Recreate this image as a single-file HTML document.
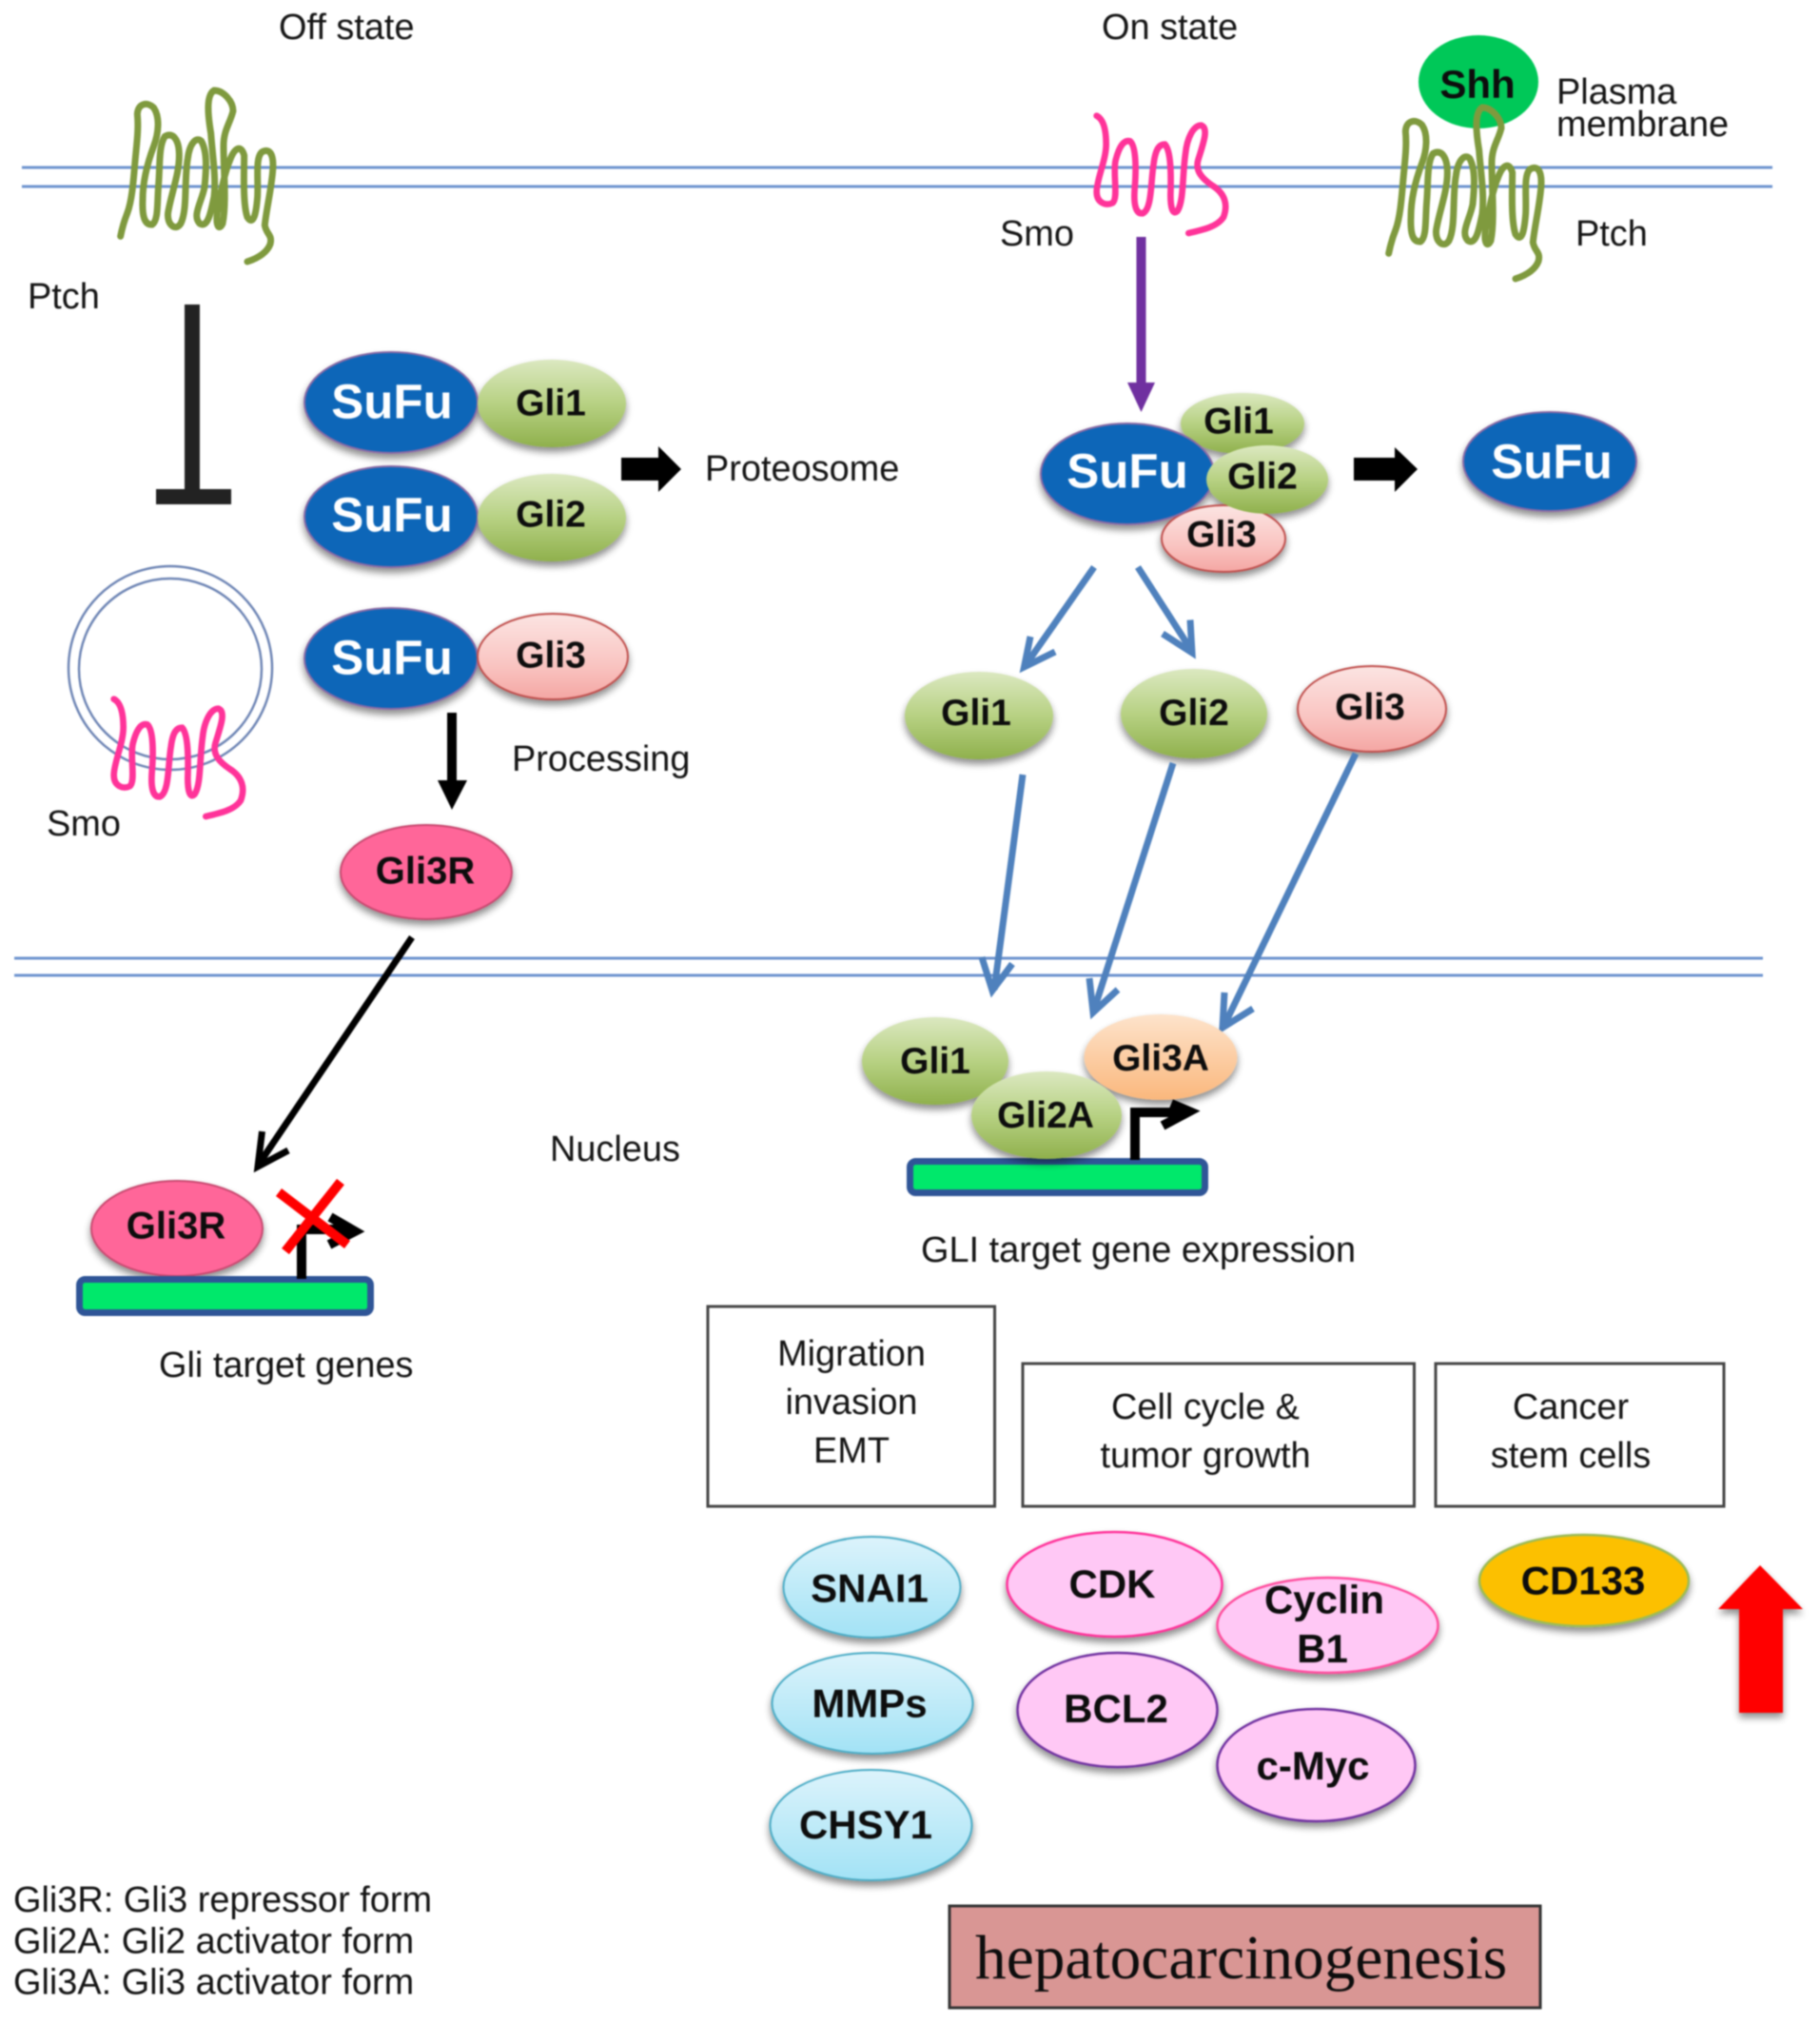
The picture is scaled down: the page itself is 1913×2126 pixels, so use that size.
<!DOCTYPE html>
<html>
<head>
<meta charset="utf-8">
<style>
html,body{margin:0;padding:0;background:#fff}
svg{display:block;filter:blur(.8px)}
text{font-family:"Liberation Sans",sans-serif;fill:#141414}
.n{font-size:37.9px}
.b{font-weight:bold;font-size:39px;text-anchor:middle;fill:#0d0d0d;transform:translate(0,-1.5px)}
.w{font-weight:bold;font-size:51px;text-anchor:middle;fill:#fff;transform:translate(0,-1.5px)}
.l{font-weight:bold;font-size:42px;text-anchor:middle;fill:#0d0d0d;transform:translate(0,-1.5px)}
.c{text-anchor:middle}
.mem{stroke:#6d93cf;stroke-width:3;fill:none}
.blue{stroke:#4f81bd;stroke-width:7;fill:none;stroke-linejoin:miter}
.sh{filter:url(#ds)}
</style>
</head>
<body>
<svg width="1913" height="2126" viewBox="0 0 1913 2126" xmlns="http://www.w3.org/2000/svg">
<defs>
<filter id="ds" x="-20%" y="-20%" width="140%" height="150%">
<feGaussianBlur in="SourceAlpha" stdDeviation="4"/>
<feOffset dy="5"/>
<feComponentTransfer><feFuncA type="linear" slope=".45"/></feComponentTransfer>
<feMerge><feMergeNode/><feMergeNode in="SourceGraphic"/></feMerge>
</filter>
<linearGradient id="gG" x1="0" y1="0" x2="0" y2="1"><stop offset="0" stop-color="#dbe8c0"/><stop offset=".5" stop-color="#b7d183"/><stop offset="1" stop-color="#8fb04c"/></linearGradient>
<linearGradient id="gP" x1="0" y1="0" x2="0" y2="1"><stop offset="0" stop-color="#fbe4e2"/><stop offset=".6" stop-color="#f9c4c1"/><stop offset="1" stop-color="#f4a6a3"/></linearGradient>
<linearGradient id="gO" x1="0" y1="0" x2="0" y2="1"><stop offset="0" stop-color="#fde3cb"/><stop offset="1" stop-color="#fab77c"/></linearGradient>
<linearGradient id="gB" x1="0" y1="0" x2="0" y2="1"><stop offset="0" stop-color="#dcf3fb"/><stop offset="1" stop-color="#a2e2f5"/></linearGradient>
<path id="ptch" d="M50 505 C55 480 60 460 72 430 C85 395 90 340 95 280 C100 220 108 170 103 120 C105 85 135 80 155 100 C175 130 170 180 155 220 C140 260 120 320 120 390 C118 440 125 470 150 468 C170 455 165 400 170 340 C175 280 170 220 190 190 C215 175 235 200 235 250 C235 310 210 370 200 430 C195 470 225 490 240 465 C262 420 250 330 262 260 C268 210 290 190 305 205 C325 240 320 300 315 350 C305 400 275 440 300 465 C325 480 335 430 345 380 C352 320 340 250 335 180 C325 120 320 60 345 45 C375 45 405 80 405 110 C395 150 375 170 375 220 C375 300 385 400 372 465 C360 490 350 470 355 430 C365 370 380 300 395 265 C410 225 430 215 440 250 C440 300 435 400 450 445 C470 475 478 430 482 380 C485 320 475 260 495 240 C520 225 535 245 530 300 C525 360 510 420 505 470 C510 500 530 500 522 530 C510 560 480 575 450 585" fill="none" stroke="#7f9a3e" stroke-width="21" stroke-linecap="round"/>
<path id="smo" d="M65 50 C85 60 95 90 95 140 C95 190 65 250 65 290 C65 325 95 335 115 325 C135 310 115 230 125 190 C135 150 150 125 170 130 C190 145 190 220 185 280 C182 320 185 360 210 358 C240 345 235 260 245 200 C250 160 260 140 280 140 C300 160 300 240 298 300 C298 340 305 365 320 350 C340 320 335 240 345 170 C350 120 370 80 395 80 C420 90 400 140 385 190 C375 225 400 250 430 270 C470 295 480 330 465 370 C445 400 400 410 355 420" fill="none" stroke="#ff3399" stroke-width="20" stroke-linecap="round"/>
</defs>

<!-- membranes -->
<line class="mem" x1="23" y1="176" x2="1863" y2="176"/>
<line class="mem" x1="23" y1="196" x2="1863" y2="196"/>
<line class="mem" x1="15" y1="1007" x2="1853" y2="1007" stroke-width="4"/>
<line class="mem" x1="15" y1="1025" x2="1853" y2="1025" stroke-width="4"/>

<!-- top labels -->
<text class="n" x="293" y="41">Off state</text>
<text class="n" x="1158" y="41">On state</text>
<text class="n" x="29" y="324">Ptch</text>
<text class="n" x="1636" y="109">Plasma</text>
<text class="n" x="1636" y="143">membrane</text>
<text class="n" x="1051" y="258">Smo</text>
<text class="n" x="1656" y="258">Ptch</text>
<text class="n" x="741" y="505">Proteosome</text>
<text class="n" x="538" y="810">Processing</text>
<text class="n" x="49" y="878">Smo</text>
<text class="n" x="578" y="1220">Nucleus</text>
<text class="n" x="167" y="1447">Gli target genes</text>
<text class="n" x="968" y="1326">GLI target gene expression</text>

<!-- Ptch off -->
<g transform="translate(110,80) scale(.3333)"><use href="#ptch"/></g>
<!-- Shh -->
<ellipse cx="1554" cy="86" rx="63" ry="49" fill="#00c858"/>
<text class="l" x="1553" y="104.500">Shh</text>
<!-- Ptch on -->
<g transform="translate(1443,98) scale(.3333)"><use href="#ptch"/></g>
<!-- Smo on -->
<g transform="translate(1131,105) scale(.3333)"><use href="#smo"/></g>

<!-- T-bar -->
<rect x="194" y="320" width="16" height="200" fill="#222"/>
<rect x="164" y="514" width="79" height="16" fill="#222"/>

<!-- vesicle -->
<ellipse cx="179" cy="702" rx="107" ry="107" fill="none" stroke="#6f86b5" stroke-width="2.5"/>
<ellipse cx="179" cy="703" rx="96" ry="95" fill="none" stroke="#6f86b5" stroke-width="2.5"/>
<g transform="translate(98,718) scale(.3333)"><use href="#smo"/></g>

<!-- off complexes -->
<g class="sh">
<ellipse cx="411" cy="423" rx="91" ry="53" fill="#0a66b8" stroke="#8a6aa5" stroke-width="2"/>
<ellipse cx="580" cy="424" rx="78" ry="46" fill="url(#gG)"/>
<ellipse cx="411" cy="543" rx="91" ry="53" fill="#0a66b8" stroke="#8a6aa5" stroke-width="2"/>
<ellipse cx="580" cy="544" rx="78" ry="46" fill="url(#gG)"/>
<ellipse cx="411" cy="692" rx="91" ry="53" fill="#0a66b8" stroke="#8a6aa5" stroke-width="2"/>
<ellipse cx="581" cy="690" rx="79" ry="45" fill="url(#gP)" stroke="#c0504d" stroke-width="2"/>
</g>
<text class="w" x="412" y="441">SuFu</text>
<text class="w" x="412" y="560">SuFu</text>
<text class="w" x="412" y="710">SuFu</text>
<text class="b" x="579" y="438">Gli1</text>
<text class="b" x="579" y="555">Gli2</text>
<text class="b" x="579" y="703">Gli3</text>

<!-- block arrows -->
<polygon points="653,481 692,481 692,469 716,493 692,517 692,505 653,505" fill="#000"/>
<polygon points="1423,481 1466,481 1466,470 1490,493 1466,517 1466,505 1423,505" fill="#000"/>

<!-- processing arrow -->
<rect x="470" y="749" width="10" height="72" fill="#000"/>
<polygon points="460,820 491,820 475,851" fill="#000"/>

<!-- Gli3R -->
<ellipse class="sh" cx="448" cy="916.500" rx="90" ry="49.500" fill="#ff6699" stroke="#c8486f" stroke-width="2"/>
<text class="b" x="447" y="930" style="font-size:40px">Gli3R</text>

<!-- black arrow to gene -->
<path d="M433 985 L273 1222" stroke="#000" stroke-width="7" fill="none"/>
<path d="M275.500 1189 L271 1226 L303 1209" stroke="#000" stroke-width="7" fill="none"/>

<!-- left gene -->
<ellipse class="sh" cx="186" cy="1291" rx="90" ry="50" fill="#ff6699" stroke="#c8486f" stroke-width="2"/>
<text class="b" x="185" y="1303" style="font-size:40px">Gli3R</text>
<rect x="83.500" y="1344.500" width="306" height="35" rx="6" fill="#00e86b" stroke="#2f5597" stroke-width="7"/>
<path d="M317 1344 V1292 H368" stroke="#000" stroke-width="10" fill="none"/>
<path d="M347 1279 L373 1294 L346 1308" stroke="#000" stroke-width="10" fill="none"/>
<path d="M293 1253 L365 1308 M358 1242 L300 1315" stroke="#f00" stroke-width="10" fill="none"/>

<!-- purple arrow -->
<rect x="1194.500" y="249" width="10" height="155" fill="#7030a0"/>
<polygon points="1185,402 1214,402 1199.500,433" fill="#7030a0"/>

<!-- on complex -->
<g class="sh">
<ellipse cx="1306" cy="445" rx="65" ry="32" fill="url(#gG)"/>
<ellipse cx="1286" cy="566" rx="65" ry="35" fill="url(#gP)" stroke="#c0504d" stroke-width="2"/>
<ellipse cx="1185" cy="498" rx="91" ry="53" fill="#0a66b8" stroke="#8a6aa5" stroke-width="2"/>
<ellipse cx="1332" cy="504" rx="64" ry="36" fill="url(#gG)"/>
<ellipse cx="1629" cy="485" rx="91" ry="52" fill="#0a66b8" stroke="#8a6aa5" stroke-width="2"/>
</g>
<text class="w" x="1185" y="514">SuFu</text>
<text class="w" x="1631" y="504">SuFu</text>
<text class="b" x="1302" y="457">Gli1</text>
<text class="b" x="1327" y="515">Gli2</text>
<text class="b" x="1284" y="576">Gli3</text>

<!-- split arrows -->
<path class="blue" d="M1150 596 L1078 699"/>
<path class="blue" d="M1083 669 L1076.500 701 L1109 685"/>
<path class="blue" d="M1196 596 L1252 683"/>
<path class="blue" d="M1251 651.500 L1253 686 L1222 666"/>

<!-- free Gli -->
<g class="sh">
<ellipse cx="1029" cy="752" rx="78" ry="46" fill="url(#gG)"/>
<ellipse cx="1255" cy="750" rx="77" ry="47" fill="url(#gG)"/>
<ellipse cx="1442" cy="745" rx="78" ry="45" fill="url(#gP)" stroke="#c0504d" stroke-width="2"/>
</g>
<text class="b" x="1026" y="763.500">Gli1</text>
<text class="b" x="1255" y="763.500">Gli2</text>
<text class="b" x="1440" y="757.500">Gli3</text>

<!-- long blue arrows -->
<path class="blue" d="M1075 814 L1045 1040"/>
<path class="blue" d="M1032 1006 L1043 1041 L1064 1013"/>
<path class="blue" d="M1233 802 L1150 1061"/>
<path class="blue" d="M1145 1028 L1149 1064 L1175 1040"/>
<path class="blue" d="M1425 792 L1287 1077"/>
<path class="blue" d="M1287 1043 L1285 1080 L1317 1060"/>

<!-- right gene -->
<rect x="956.500" y="1220.500" width="310" height="33" rx="6" fill="#00e86b" stroke="#2f5597" stroke-width="7"/>
<g class="sh">
<ellipse cx="983" cy="1115" rx="77" ry="46" fill="url(#gG)"/>
<ellipse cx="1100" cy="1172" rx="79" ry="46" fill="url(#gG)"/>
<ellipse cx="1220" cy="1111" rx="80.500" ry="45" fill="url(#gO)"/>
</g>
<path d="M1193 1219 V1169 H1244" stroke="#000" stroke-width="10" fill="none"/>
<path d="M1231 1160 L1250 1168 L1222 1183" stroke="#000" stroke-width="10" fill="none"/>
<text class="b" x="983" y="1129.500">Gli1</text>
<text class="b" x="1099" y="1186.500">Gli2A</text>
<text class="b" x="1220" y="1126.500">Gli3A</text>

<!-- boxes -->
<rect x="744" y="1373" width="301.500" height="210" fill="none" stroke="#444" stroke-width="3"/>
<rect x="1075" y="1433" width="411.500" height="150" fill="none" stroke="#444" stroke-width="3"/>
<rect x="1509" y="1433" width="303" height="150" fill="none" stroke="#444" stroke-width="3"/>
<text class="n c" x="895" y="1435">Migration</text>
<text class="n c" x="895" y="1486">invasion</text>
<text class="n c" x="895" y="1537">EMT</text>
<text class="n c" x="1267" y="1491">Cell cycle &amp;</text>
<text class="n c" x="1267" y="1542">tumor growth</text>
<text class="n c" x="1651" y="1491">Cancer</text>
<text class="n c" x="1651" y="1542">stem cells</text>

<!-- target ellipses -->
<g class="sh">
<ellipse cx="916.500" cy="1668" rx="93" ry="53" fill="url(#gB)" stroke="#4bacc6" stroke-width="2"/>
<ellipse cx="917" cy="1790" rx="105.500" ry="53" fill="url(#gB)" stroke="#4bacc6" stroke-width="2"/>
<ellipse cx="915.500" cy="1918" rx="106" ry="58" fill="url(#gB)" stroke="#4bacc6" stroke-width="2"/>
<ellipse cx="1395.500" cy="1708" rx="116" ry="50" fill="#ffc8f5" stroke="#ff4d9d" stroke-width="2.500"/>
<ellipse cx="1171.500" cy="1665" rx="113" ry="55" fill="#ffc8f5" stroke="#ff3399" stroke-width="2.500"/>
<ellipse cx="1174.500" cy="1797" rx="105" ry="60" fill="#ffc8f5" stroke="#7030a0" stroke-width="2.500"/>
<ellipse cx="1383.500" cy="1855" rx="104" ry="59" fill="#ffc8f5" stroke="#7030a0" stroke-width="2.500"/>
<ellipse cx="1665" cy="1661" rx="110" ry="48" fill="#fcc000" stroke="#9bbb59" stroke-width="2.500"/>
</g>
<text class="l" x="914" y="1685">SNAI1</text>
<text class="l" x="914" y="1806">MMPs</text>
<text class="l" x="910" y="1933.500">CHSY1</text>
<text class="l" x="1169" y="1680.500">CDK</text>
<text class="l" x="1392" y="1697">Cyclin</text>
<text class="l" x="1390" y="1748.500">B1</text>
<text class="l" x="1173" y="1811.500">BCL2</text>
<text class="l" x="1380" y="1871.500">c-Myc</text>
<text class="l" x="1664" y="1677">CD133</text>

<!-- red arrow -->
<polygon class="sh" points="1850,1645 1895,1691 1874,1691 1874,1800 1828,1800 1828,1691 1806,1691" fill="#ff0000"/>

<!-- hepatocarcinogenesis -->
<rect x="998" y="2003" width="621" height="107" fill="#d99694" stroke="#333" stroke-width="3"/>
<text x="1025" y="2079" style="font-family:'Liberation Serif',serif;font-size:65.400px;fill:#0d0d0d">hepatocarcinogenesis</text>

<!-- legend -->
<text class="n" x="14" y="2009">Gli3R: Gli3 repressor form</text>
<text class="n" x="14" y="2052.500">Gli2A: Gli2 activator form</text>
<text class="n" x="14" y="2095.500">Gli3A: Gli3 activator form</text>
</svg>
</body>
</html>
